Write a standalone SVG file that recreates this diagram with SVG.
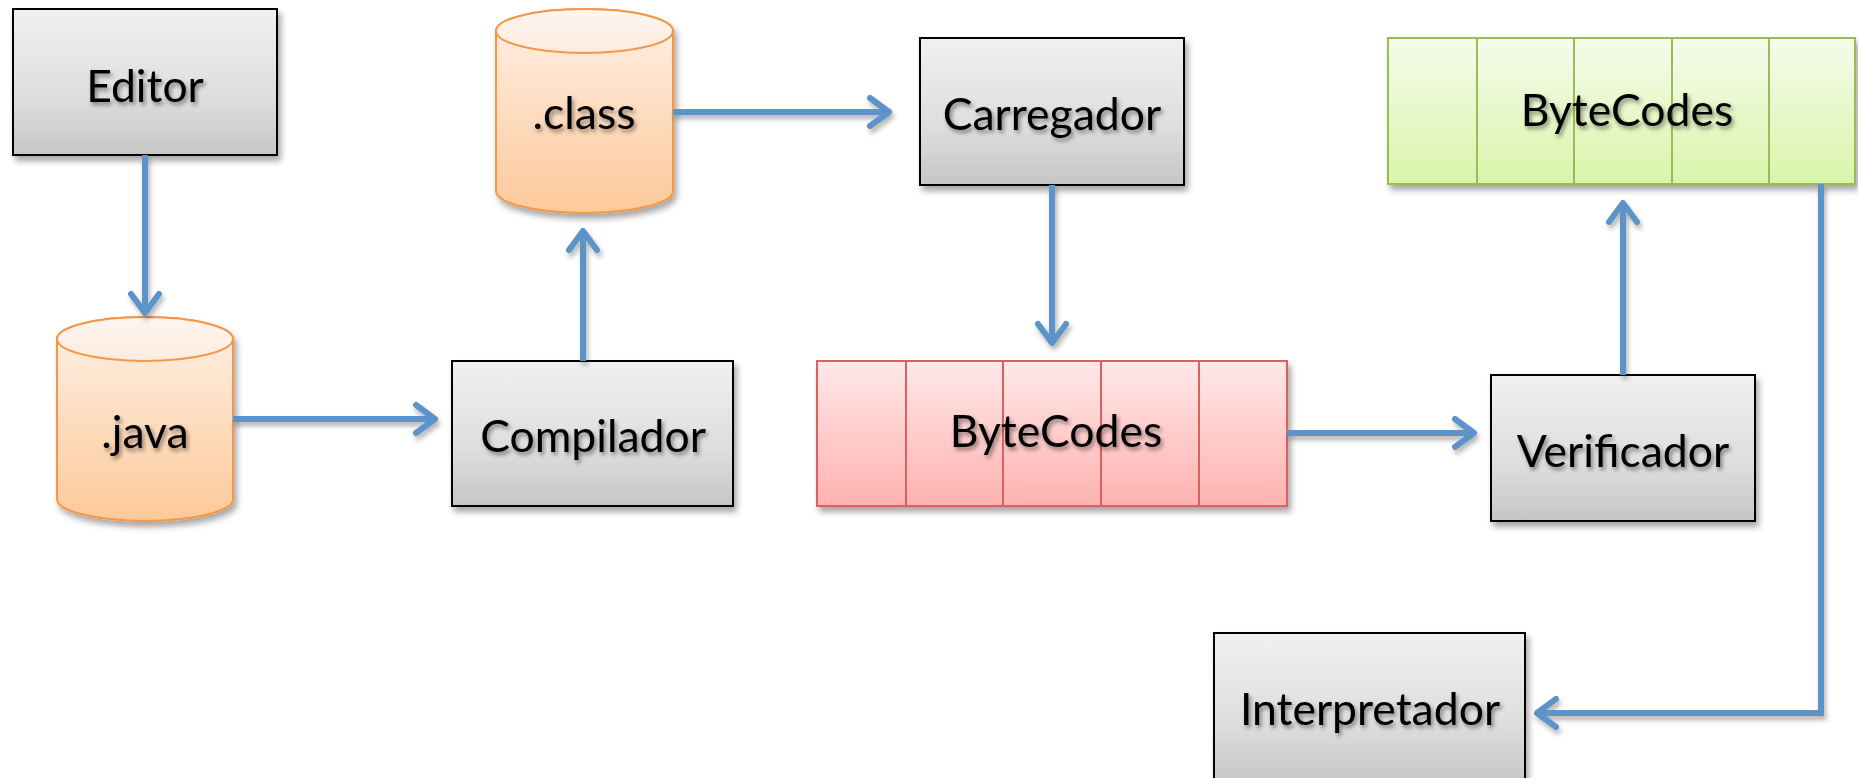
<svg xmlns="http://www.w3.org/2000/svg" width="1858" height="778" viewBox="0 0 1858 778">
  <defs>
    <linearGradient id="gGray" x1="0" y1="0" x2="0" y2="1">
      <stop offset="0" stop-color="#f0f0f0"/>
      <stop offset="0.6" stop-color="#dedede"/>
      <stop offset="1" stop-color="#c6c6c6"/>
    </linearGradient>
    <linearGradient id="gOrange" x1="0" y1="0" x2="0" y2="1">
      <stop offset="0" stop-color="#fef1e7"/>
      <stop offset="1" stop-color="#fdc99a"/>
    </linearGradient>
    <linearGradient id="gOrangeTop" x1="0" y1="0" x2="0" y2="1">
      <stop offset="0" stop-color="#fef6f0"/>
      <stop offset="1" stop-color="#fdece0"/>
    </linearGradient>
    <linearGradient id="gRed" x1="0" y1="0" x2="0" y2="1">
      <stop offset="0" stop-color="#ffe8e8"/>
      <stop offset="1" stop-color="#ffb2b0"/>
    </linearGradient>
    <linearGradient id="gGreen" x1="0" y1="0" x2="0" y2="1">
      <stop offset="0" stop-color="#f5fbec"/>
      <stop offset="1" stop-color="#d9f5a9"/>
    </linearGradient>
    <filter id="shadow" x="-10%" y="-10%" width="130%" height="140%">
      <feDropShadow dx="3" dy="5" stdDeviation="3" flood-color="#000" flood-opacity="0.35"/>
    </filter>
    <filter id="tshadow" x="-10%" y="-20%" width="130%" height="160%">
      <feDropShadow dx="2" dy="3" stdDeviation="2" flood-color="#000" flood-opacity="0.45"/>
    </filter>
    <filter id="lshadow" filterUnits="userSpaceOnUse" x="0" y="0" width="1858" height="778">
      <feDropShadow dx="2" dy="4" stdDeviation="2.5" flood-color="#000" flood-opacity="0.3"/>
    </filter>
    <marker id="arrow" markerUnits="userSpaceOnUse" markerWidth="40" markerHeight="40" refX="0" refY="0" viewBox="-26 -20 32 40" orient="auto" overflow="visible">
      <path d="M -19 -14 L 0 0 L -19 14" fill="none" stroke="#5b93c9" stroke-width="6" stroke-linecap="round" stroke-linejoin="round"/>
    </marker>
  </defs>
  <style>
    .box { fill: url(#gGray); stroke: #000; stroke-width: 2; filter: url(#shadow); }
    .cyl { fill: url(#gOrange); stroke: #f79646; stroke-width: 2; filter: url(#shadow); }
    .cyltop { fill: url(#gOrangeTop); stroke: #f79646; stroke-width: 2; }
    .red { fill: url(#gRed); stroke: #d9625e; stroke-width: 2; filter: url(#shadow); }
    .redline { stroke: #d9625e; stroke-width: 2; }
    .green { fill: url(#gGreen); stroke: #9bbb59; stroke-width: 2; filter: url(#shadow); }
    .greenline { stroke: #9bbb59; stroke-width: 2; }
    .lbl { font-family: Lato, "Open Sans", "Liberation Sans", sans-serif; font-size: 44.5px; fill: #000; text-anchor: middle; filter: url(#tshadow); }
    .conn { fill: none; stroke: #5b93c9; stroke-width: 6; filter: url(#lshadow); }
  </style>

  <g id="editor">
    <rect class="box" x="13" y="9" width="264" height="146"/>
    <text class="lbl" x="145" y="102">Editor</text>
  </g>

  <g id="java">
    <path class="cyl" d="M57,339 A88,22 0 0 1 233,339 V499 A88,22 0 0 1 57,499 Z"/>
    <ellipse class="cyltop" cx="145" cy="339" rx="88" ry="22"/>
    <text class="lbl" x="145" y="448">.java</text>
  </g>

  <g id="compilador">
    <rect class="box" x="452" y="361" width="281" height="145"/>
    <text class="lbl" x="593" y="452">Compilador</text>
  </g>

  <g id="class">
    <path class="cyl" d="M496,31 A88.5,22 0 0 1 673,31 V191 A88.5,22 0 0 1 496,191 Z"/>
    <ellipse class="cyltop" cx="584.5" cy="31" rx="88.5" ry="22"/>
    <text class="lbl" x="584" y="129">.class</text>
  </g>

  <g id="carregador">
    <rect class="box" x="920" y="38" width="264" height="147"/>
    <text class="lbl" x="1052" y="130">Carregador</text>
  </g>

  <g id="bytecodes-red">
    <rect class="red" x="817" y="361" width="470" height="145"/>
    <line class="redline" x1="906" y1="361" x2="906" y2="506"/>
    <line class="redline" x1="1003" y1="361" x2="1003" y2="506"/>
    <line class="redline" x1="1101" y1="361" x2="1101" y2="506"/>
    <line class="redline" x1="1199" y1="361" x2="1199" y2="506"/>
    <text class="lbl" x="1056" y="447">ByteCodes</text>
  </g>

  <g id="verificador">
    <rect class="box" x="1491" y="375" width="264" height="146"/>
    <text class="lbl" x="1623" y="467">Verificador</text>
  </g>

  <g id="bytecodes-green">
    <rect class="green" x="1388" y="38" width="467" height="146"/>
    <line class="greenline" x1="1477" y1="38" x2="1477" y2="184"/>
    <line class="greenline" x1="1574" y1="38" x2="1574" y2="184"/>
    <line class="greenline" x1="1672" y1="38" x2="1672" y2="184"/>
    <line class="greenline" x1="1769" y1="38" x2="1769" y2="184"/>
    <text class="lbl" x="1627" y="126">ByteCodes</text>
  </g>

  <g id="interpretador">
    <rect class="box" x="1214" y="633" width="311" height="150"/>
    <text class="lbl" x="1370" y="725">Interpretador</text>
  </g>

  <g id="connectors">
    <path class="conn" d="M145,155 V313" marker-end="url(#arrow)"/>
    <path class="conn" d="M233,419 H435" marker-end="url(#arrow)"/>
    <path class="conn" d="M583,361 V231" marker-end="url(#arrow)"/>
    <path class="conn" d="M673,112 H889" marker-end="url(#arrow)"/>
    <path class="conn" d="M1052,185 V343" marker-end="url(#arrow)"/>
    <path class="conn" d="M1287,433 H1474" marker-end="url(#arrow)"/>
    <path class="conn" d="M1623,375 V203" marker-end="url(#arrow)"/>
    <path class="conn" d="M1821,184 V713 H1537" marker-end="url(#arrow)"/>
  </g>
</svg>
